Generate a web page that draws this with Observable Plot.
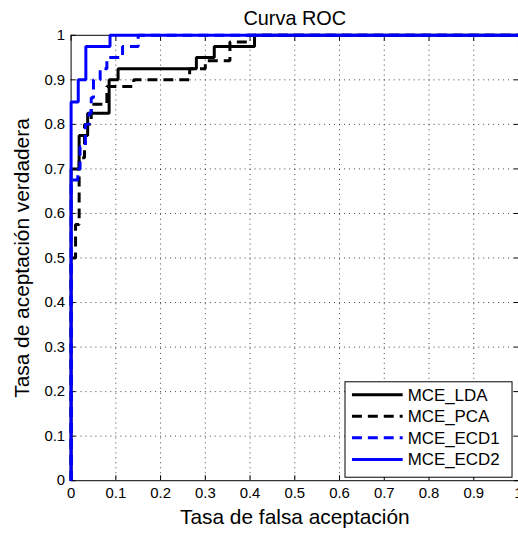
<!DOCTYPE html>
<html><head><meta charset="utf-8">
<script src="https://cdn.jsdelivr.net/npm/d3@7"></script>
<script src="https://cdn.jsdelivr.net/npm/@observablehq/plot@0.6"></script>
<style>
body{margin:0;background:#fff;}
#c{width:518px;height:535px;overflow:hidden;position:relative;background:#fff;}
#c svg{display:block;}
</style></head><body><div id="c"></div>
<script>
// ROC curve vertices (false acceptance rate, true acceptance rate), drawn as step-after
const seriesNames = ["MCE_LDA", "MCE_PCA", "MCE_ECD1", "MCE_ECD2"];
const ldaFar = [0, 0, 0.018, 0.037, 0.085, 0.105, 0.28, 0.32, 0.41, 1];
const ldaTar = [0, 0.7, 0.775, 0.825, 0.9, 0.925, 0.95, 0.975, 1, 1];
const pcaFar = [0, 0, 0.01, 0.018, 0.03, 0.045, 0.08, 0.14, 0.265, 0.3, 0.355, 0.395, 1];
const pcaTar = [0, 0.5, 0.575, 0.725, 0.8, 0.845, 0.885, 0.9, 0.925, 0.943, 0.985, 1, 1];
const ecd1Far = [0, 0, 0.015, 0.02, 0.032, 0.04, 0.045, 0.05, 0.065, 0.08, 0.115, 0.15, 1];
const ecd1Tar = [0, 0.675, 0.7, 0.75, 0.8, 0.825, 0.86, 0.9, 0.925, 0.95, 0.975, 1, 1];
const ecd2Far = [0, 0, 0.016, 0.033, 0.087, 1];
const ecd2Tar = [0, 0.85, 0.9, 0.975, 1, 1];

const tickValues = [0, 0.1, 0.2, 0.3, 0.4, 0.5, 0.6, 0.7, 0.8, 0.9, 1];
const tickLabels = ["0", "0.1", "0.2", "0.3", "0.4", "0.5", "0.6", "0.7", "0.8", "0.9", "1"];

const seriesStyle = [
  {color: "#000000", dash: null},
  {color: "#000000", dash: "10,6"},
  {color: "#0000ff", dash: "10,6"},
  {color: "#0000ff", dash: null}
];
const seriesData = [[ldaFar, ldaTar], [pcaFar, pcaTar], [ecd1Far, ecd1Tar], [ecd2Far, ecd2Tar]]
  .map(([xs, ys], i) => xs.map((x, j) => ({series: seriesNames[i], far: x, tar: ys[j]})));

const fmt = d => tickLabels[tickValues.findIndex(v => Math.abs(v - d) < 1e-9)];
const FONT = "'Liberation Sans', Arial, Helvetica, sans-serif";

const lineMarks = seriesData.map((data, i) => Plot.line(data, {
  x: "far", y: "tar", curve: "step-after",
  stroke: seriesStyle[i].color, strokeWidth: 3,
  strokeDasharray: seriesStyle[i].dash, strokeLinejoin: "miter", strokeLinecap: "butt"
}));

const plot = Plot.plot({
  width: 521, height: 535,
  marginLeft: 71, marginRight: 0, marginTop: 35, marginBottom: 52,
  x: {domain: [0, 1]},
  y: {domain: [0, 1]},
  style: {fontFamily: FONT, fontSize: "15px", background: "#fff", color: "#000", overflow: "visible"},
  marks: [
    Plot.gridX(tickValues.slice(1, -1), {stroke: "#000", strokeOpacity: 0.75, strokeDasharray: "1,4"}),
    Plot.gridY(tickValues.slice(1, -1), {stroke: "#000", strokeOpacity: 0.75, strokeDasharray: "1,4"}),
    Plot.axisX(tickValues, {anchor: "bottom", tickSize: -5, tickPadding: 12, tickFormat: fmt, label: null, fontSize: 15}),
    Plot.axisX(tickValues, {anchor: "top", tickSize: -5, tickFormat: () => "", label: null}),
    Plot.axisY(tickValues, {anchor: "left", tickSize: -5, tickPadding: 11, tickFormat: fmt, label: null, fontSize: 15}),
    Plot.axisY(tickValues, {anchor: "right", tickSize: -5, tickFormat: () => "", label: null}),
    Plot.frame({stroke: "#000", strokeWidth: 1}),
    ...lineMarks,
    Plot.text(["Curva ROC"], {frameAnchor: "top", dy: -17, fontSize: 20, textAnchor: "middle", lineAnchor: "middle"}),
    Plot.text(["Tasa de falsa aceptación"], {frameAnchor: "bottom", dy: 37, fontSize: 21, textAnchor: "middle", lineAnchor: "middle"}),
    Plot.text(["Tasa de aceptación verdadera"], {frameAnchor: "left", dx: -49, rotate: -90, fontSize: 21, textAnchor: "middle", lineAnchor: "middle", letterSpacing: "0.8px"})
  ]
});

// Legend box (MATLAB style, lower right)
const svg = d3.select(plot);
const lg = svg.append("g").attr("font-family", FONT).attr("font-size", 17).attr("text-anchor", "start");
const box = {x: 347, y: 384, w: 168, h: 96};
lg.append("rect").attr("x", box.x).attr("y", box.y).attr("width", box.w).attr("height", box.h)
  .attr("fill", "#fff").attr("stroke", "#000").attr("stroke-width", 1);
seriesNames.forEach((name, i) => {
  const cy = box.y + 13 + i * 21.7;
  lg.append("line").attr("x1", box.x + 7).attr("x2", box.x + 58).attr("y1", cy).attr("y2", cy)
    .attr("stroke", seriesStyle[i].color).attr("stroke-width", 3)
    .attr("stroke-dasharray", seriesStyle[i].dash);
  lg.append("text").attr("x", box.x + 63).attr("y", cy).attr("dy", "0.35em")
    .attr("text-anchor", "start").text(name);
});

document.getElementById("c").appendChild(plot);
</script></body></html>
